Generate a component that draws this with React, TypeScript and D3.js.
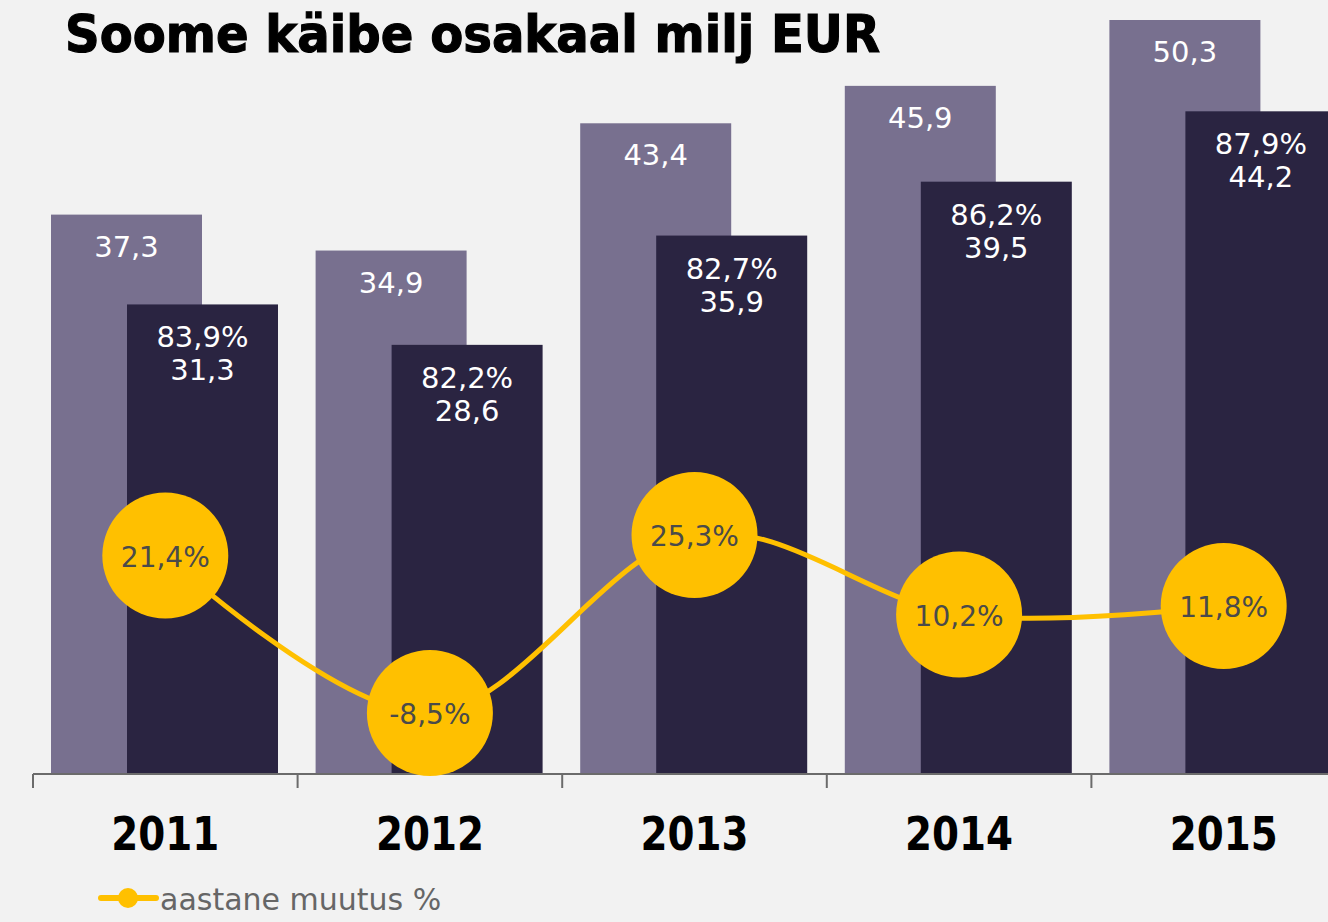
import React from "react";
import * as d3 from "d3";

const years = ["2011", "2012", "2013", "2014", "2015"];
const totalValues = [37.3, 34.9, 43.4, 45.9, 50.3];
const finlandValues = [31.3, 28.6, 35.9, 39.5, 44.2];
const finlandShares = ["83,9%", "82,2%", "82,7%", "86,2%", "87,9%"];
const changeValues = [21.4, -8.5, 25.3, 10.2, 11.8];
const title = "Soome käibe osakaal milj EUR";
const legendLabel = "aastane muutus %";

const W = 1328;
const H = 922;
const FONT = "'DejaVu Sans', 'Noto Sans', sans-serif";
const fmt = (v: number) => String(v).replace(".", ",");

export default function App() {
  const x = d3.scaleBand<string>().domain(years).range([33, 33 + 264.6 * 5]).paddingInner(0).paddingOuter(0);
  const y = d3.scaleLinear().domain([0, 50.3]).range([773, 20]);
  const y2 = d3.scaleLinear().domain([-8.5, 25.3]).range([713, 535]);
  const bw = 151;
  const off1 = 18;
  const off2 = 94;
  const line = d3
    .line<number>()
    .x((_, i) => (x(years[i]) as number) + x.bandwidth() / 2)
    .y((d) => y2(d))
    .curve(d3.curveCardinal.tension(0));

  return (
    <svg width={W} height={H} style={{ position: "absolute", left: 0, top: 0, background: "#f2f2f2" }}>
      <rect width={W} height={H} fill="#f2f2f2" />
      <text x={65} y={52} fontFamily={FONT} fontWeight="bold" fontSize={52} fill="#000" stroke="#000" strokeWidth={1.2} textLength={815} lengthAdjust="spacingAndGlyphs">
        {title}
      </text>
      {years.map((yr, i) => {
        const bx = x(yr) as number;
        return (
          <g key={yr}>
            <rect x={bx + off1} y={y(totalValues[i])} width={bw} height={y(0) - y(totalValues[i])} fill="#78708f" />
            <rect x={bx + off2} y={y(finlandValues[i])} width={bw} height={y(0) - y(finlandValues[i])} fill="#2a2441" />
            <text x={bx + off1 + bw / 2} y={y(totalValues[i]) + 42} textAnchor="middle" fontFamily={FONT} fontSize={29} fill="#fff">
              {fmt(totalValues[i])}
            </text>
            <text x={bx + off2 + bw / 2} y={y(finlandValues[i]) + 43} textAnchor="middle" fontFamily={FONT} fontSize={29} fill="#fff">
              {finlandShares[i]}
            </text>
            <text x={bx + off2 + bw / 2} y={y(finlandValues[i]) + 76} textAnchor="middle" fontFamily={FONT} fontSize={29} fill="#fff">
              {fmt(finlandValues[i])}
            </text>
          </g>
        );
      })}
      <line x1={33} x2={W} y1={774} y2={774} stroke="#6b6b6b" strokeWidth={2} />
      {years.map((yr) => (
        <line key={"t" + yr} x1={(x(yr) as number)} x2={(x(yr) as number)} y1={774} y2={788} stroke="#6b6b6b" strokeWidth={2} />
      ))}
      {years.map((yr) => (
        <text key={"l" + yr} x={(x(yr) as number) + x.bandwidth() / 2} y={850} textAnchor="middle" fontFamily={FONT} fontWeight="bold" fontSize={46} fill="#000" textLength={108} lengthAdjust="spacingAndGlyphs">
          {yr}
        </text>
      ))}
      <path d={line(changeValues) || ""} fill="none" stroke="#ffc000" strokeWidth={5} />
      {changeValues.map((v, i) => {
        const cx = (x(years[i]) as number) + x.bandwidth() / 2;
        return (
          <g key={"c" + i}>
            <circle cx={cx} cy={y2(v)} r={63} fill="#ffc000" />
            <text x={cx} y={y2(v) + 11} textAnchor="middle" fontFamily={FONT} fontSize={28} fill="#4a4a4a">
              {fmt(v) + "%"}
            </text>
          </g>
        );
      })}
      <line x1={101} x2={156} y1={898} y2={898} stroke="#ffc000" strokeWidth={6} strokeLinecap="round" />
      <circle cx={128} cy={898} r={10} fill="#ffc000" />
      <text x={160} y={910} fontFamily={FONT} fontSize={30} fill="#666">
        {legendLabel}
      </text>
    </svg>
  );
}
